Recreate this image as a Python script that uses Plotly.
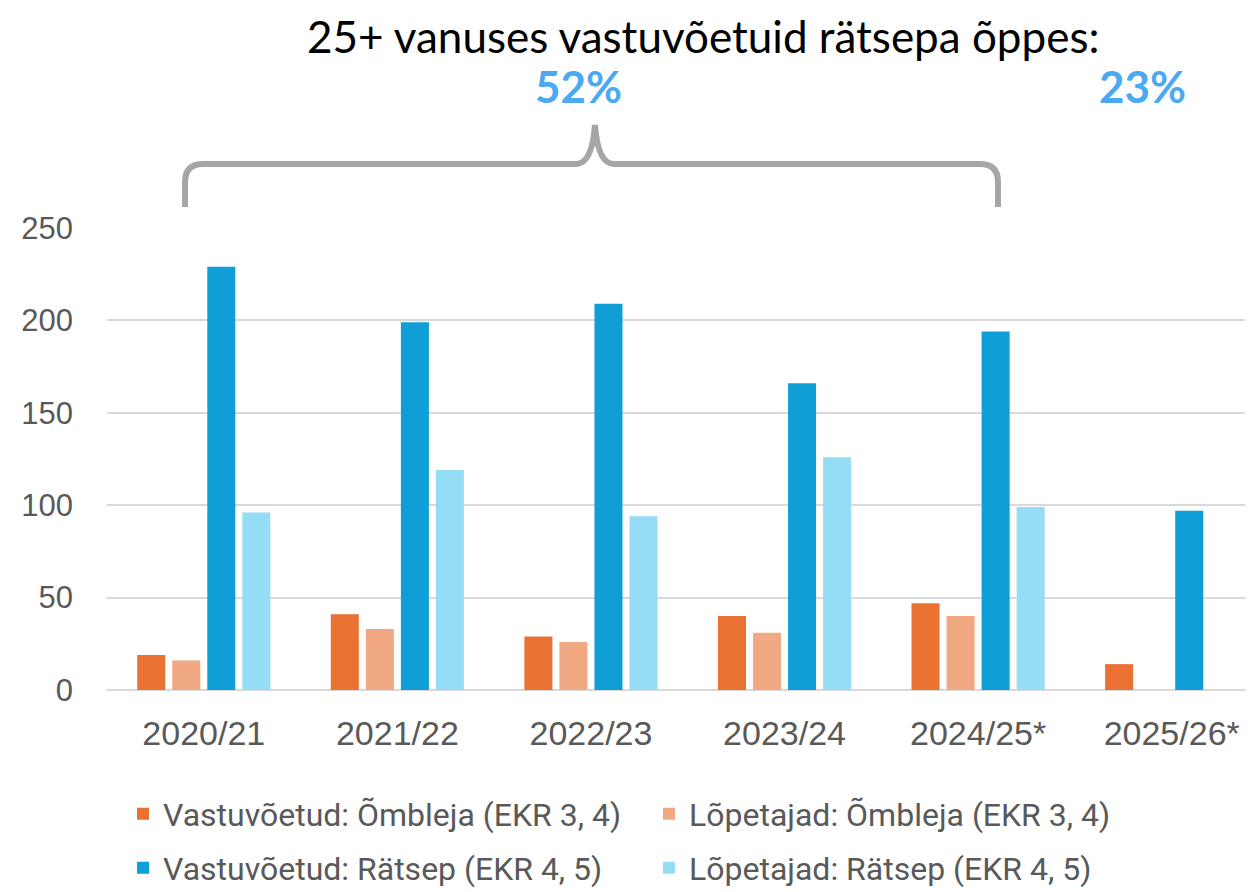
import plotly.graph_objects as go

# andmed
aastad = ["2020/21", "2021/22", "2022/23", "2023/24", "2024/25*", "2025/26*"]
vast_ombleja = [19, 41, 29, 40, 47, 14]
lop_ombleja = [16, 33, 26, 31, 40, None]
vast_ratsep = [229, 199, 209, 166, 194, 97]
lop_ratsep = [96, 119, 94, 126, 99, None]

nimed = [
    "Vastuvõetud: Õmbleja (EKR 3, 4)",
    "Lõpetajad: Õmbleja (EKR 3, 4)",
    "Vastuvõetud: Rätsep (EKR 4, 5)",
    "Lõpetajad: Rätsep (EKR 4, 5)",
]
varvid = ["#E97132", "#F1A983", "#0F9ED5", "#95DCF7"]
legendid = ["legend", "legend", "legend2", "legend2"]
tiitel = "25+ vanuses vastuvõetuid rätsepa õppes:"
protsendid = ["52%", "23%"]

W, H = 1253, 892
OFF = 8  # lehe body vaikimisi äär
L, R, T, B = 107 - OFF, OFF, 228 - OFF, 202 + OFF
pw, ph = W - L - R, H - T - B


def px(x):
    # ekraani x -> paper
    return (x - OFF - L) / pw


def py(y):
    # ekraani y -> paper
    return (H - B - (y - OFF)) / ph


PEALKIRI = "Lato, Open Sans, sans-serif"
LEGEND_FONT = "Roboto, Liberation Sans, sans-serif"
TICK_FONT = "Liberation Sans, Arial, sans-serif"
TEKST = "#595959"

fig = go.Figure()
for nimi, vals, c, lg in zip(nimed, [vast_ombleja, lop_ombleja, vast_ratsep, lop_ratsep], varvid, legendid):
    fig.add_trace(go.Bar(x=aastad, y=vals, name=nimi, marker_color=c,
                         marker_line_width=0, legend=lg))

# kõverik sulg
pts = [
    "M", (185, 207), "L", (185, 182), "Q", (185, 164), (203, 164),
    "L", (576, 164), "Q", (592, 164), (595, 125), "Q", (598, 164), (614, 164),
    "L", (980, 164), "Q", (998, 164), (998, 182), "L", (998, 207),
]
path = ""
for p in pts:
    if isinstance(p, str):
        path += p + " "
    else:
        path += f"{px(p[0]):.4f},{py(p[1]):.4f} "
fig.add_shape(type="path", path=path, xref="paper", yref="paper",
              line=dict(color="#A6A6A6", width=6))

fig.add_annotation(text=tiitel, x=px(703), y=py(36), xref="paper", yref="paper",
                   showarrow=False, font=dict(family=PEALKIRI, size=44, color="#000000"),
                   xanchor="center", yanchor="middle")
for t, xx in zip(protsendid, [578, 1142]):
    fig.add_annotation(text=f"<b>{t}</b>", x=px(xx), y=py(86), xref="paper", yref="paper",
                       showarrow=False, font=dict(family=PEALKIRI, size=44, color="#4AA9F0"),
                       xanchor="center", yanchor="middle")

leg_common = dict(orientation="h", xanchor="left", yanchor="middle",
                  font=dict(family=LEGEND_FONT, size=32, color=TEKST),
                  bgcolor="rgba(0,0,0,0)", entrywidth=481, entrywidthmode="pixels",
                  itemclick=False, traceorder="normal")

fig.update_layout(
    width=W, height=H,
    margin=dict(l=L, r=R, t=T, b=B, autoexpand=False),
    plot_bgcolor="white", paper_bgcolor="white",
    barmode="group", bargap=0.276, bargroupgap=0.2,
    legend=dict(x=px(123), y=py(814), **leg_common),
    legend2=dict(x=px(123), y=py(868), **leg_common),
    xaxis=dict(range=[-0.5, 5.42], showgrid=False, showline=False, zeroline=False,
               automargin=False, ticks="",
               tickfont=dict(family=TICK_FONT, size=34, color=TEKST),
               ticklabelstandoff=20),
    yaxis=dict(range=[0, 250], dtick=50, showgrid=True, gridcolor="#D9D9D9", gridwidth=2,
               zeroline=True, zerolinecolor="#D9D9D9", zerolinewidth=2, showline=False,
               automargin=False, ticks="",
               tickfont=dict(family=TICK_FONT, size=31, color=TEKST),
               ticklabelstandoff=33),
    font=dict(family=TICK_FONT),
)

fig.write_html("out.html")
